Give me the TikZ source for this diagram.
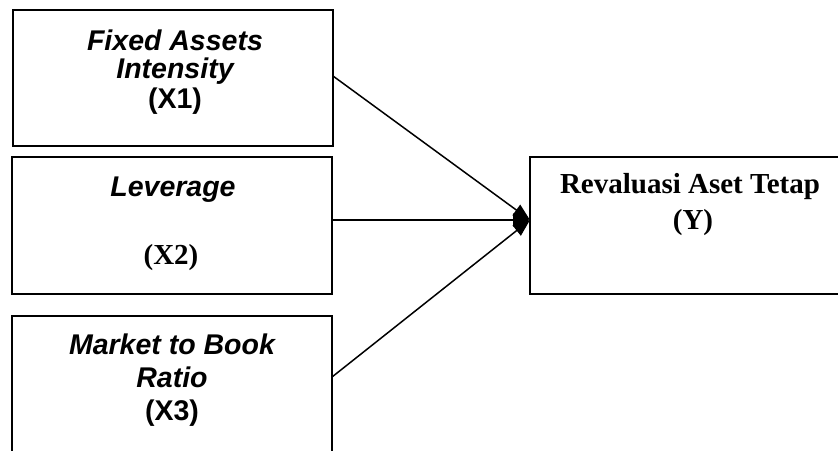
\documentclass[tikz,border=0pt]{standalone}
\usepackage{fontspec}
\setmainfont{Liberation Serif}
\newfontfamily\arialf{Liberation Sans}
\usetikzlibrary{arrows.meta}
\tikzset{
  boxnode/.style={draw=black, line width=1.6pt, minimum width=320pt, minimum height=137pt, inner sep=0pt},
  sanslbl/.style={anchor=base, inner sep=0pt, font=\arialf\bfseries\itshape\fontsize{28.5}{30}\selectfont},
  sansplain/.style={anchor=base, inner sep=0pt, font=\arialf\bfseries\fontsize{28.5}{30}\selectfont},
  seriflbl/.style={anchor=base, inner sep=0pt, font=\bfseries\fontsize{29}{31}\selectfont},
  conn/.style={line width=1.5pt, -{Triangle[length=17pt,width=13pt]}}
}
\begin{document}
\begin{tikzpicture}[x=1pt,y=-1pt]
\useasboundingbox (0,0) rectangle (838,450);
\clip (0,0) rectangle (838,450);
\fill[white] (0,0) rectangle (838,450);
% boxes
\node[boxnode, minimum height=136pt] (b1) at (173,78) {};
\node[boxnode] (b2) at (172,225.5) {};
\node[boxnode] (b3) at (172,384.5) {};
\node[boxnode] (by) at (690,225.5) {};
% texts
\node[sanslbl] (t1a) at (175,50) {Fixed Assets};
\node[sanslbl] (t1b) at (175,78) {Intensity};
\node[sansplain] (t1c) at (175,108) {(X1)};
\node[sanslbl] (t2a) at (173,196) {Leverage};
\node[seriflbl] (t2b) at (171,264) {(X2)};
\node[sanslbl] (t3a) at (172,354) {Market to Book};
\node[sanslbl] (t3b) at (172,387) {Ratio};
\node[sansplain] (t3c) at (172,420) {(X3)};
\node[seriflbl] (tya) at (690,193) {Revaluasi Aset Tetap};
\node[seriflbl] (tyb) at (693,229) {(Y)};
% connectors
\coordinate (s1) at (333,76);
\coordinate (s2) at (332,220);
\coordinate (s3) at (332,377);
\coordinate (tip) at (530,220);
\draw[conn] (s1) -- (tip);
\draw[conn] (s2) -- (tip);
\draw[conn] (s3) -- (tip);
\end{tikzpicture}
\end{document}
